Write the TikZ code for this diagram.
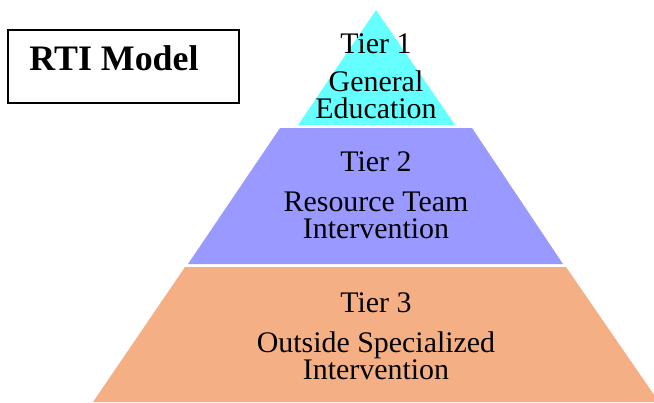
\documentclass[tikz,border=0pt]{standalone}
\usepackage{fontspec}
\setmainfont{Liberation Serif}
\usepackage{xcolor}
\definecolor{tiercyan}{RGB}{102,255,255}
\definecolor{tierviolet}{RGB}{153,153,255}
\definecolor{tierorange}{RGB}{244,176,132}
\begin{document}
\begin{tikzpicture}[
		    x=1bp, y=-1bp,
		    every node/.style={inner sep=0pt, anchor=base},
		    tiertext/.style={font=\fontsize{30}{36}\selectfont}
		]
		\tikzset{
		    tierone/.style={fill=tiercyan},
		    tiertwo/.style={fill=tierviolet},
		    tierthree/.style={fill=tierorange},
		    titlebox/.style={draw=black, line width=1.5bp},
		    titletext/.style={font=\fontsize{36}{42}\selectfont\bfseries}
		}
		\useasboundingbox (0,0) rectangle (654,402);
		\clip (0,0) rectangle (654,402);
		% pyramid
		\fill[tierone] (376,10) -- (455,125) -- (298,125) -- cycle;
		\fill[tiertwo] (280,128) -- (472,128) -- (563,264) -- (188,264) -- cycle;
		\fill[tierthree] (185,267) -- (566,267) -- (659,402) -- (93,402) -- cycle;
		% labels
		\node[tiertext] (tieronehead) at (376,53) {Tier 1};
		\node[tiertext] (tieronea) at (376,91) {General};
		\node[tiertext] (tieroneb) at (376,118) {Education};
		\node[tiertext] (tiertwohead) at (376,171) {Tier 2};
		\node[tiertext] (tiertwoa) at (376,211) {Resource Team};
		\node[tiertext] (tiertwob) at (376,238) {Intervention};
		\node[tiertext] (tierthreehead) at (376,312) {Tier 3};
		\node[tiertext] (tierthreea) at (376,352) {Outside Specialized};
		\node[tiertext] (tierthreeb) at (376,379) {Intervention};
		% title
		\draw[titlebox] (8,30) rectangle (239,103);
		\node[titletext] (title) at (114,70) {RTI Model};
		\end{tikzpicture}
\end{document}
